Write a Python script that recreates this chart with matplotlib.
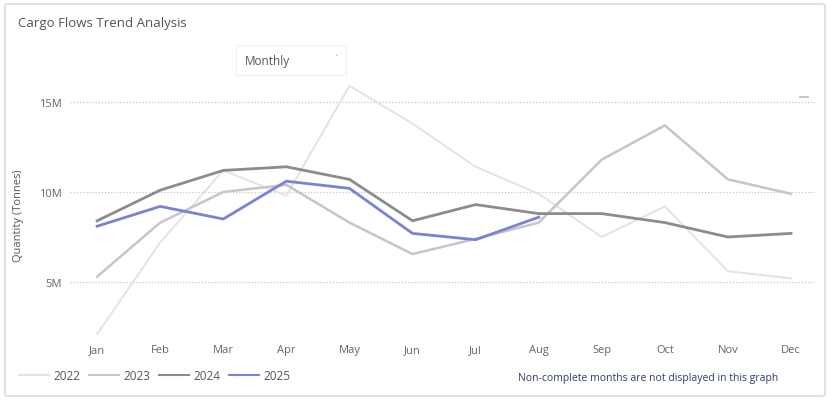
import matplotlib
matplotlib.use('Agg')
from matplotlib import pyplot as plt
from matplotlib.patches import FancyBboxPatch
from matplotlib.lines import Line2D

months = ['Jan', 'Feb', 'Mar', 'Apr', 'May', 'Jun', 'Jul', 'Aug', 'Sep', 'Oct', 'Nov', 'Dec']

# values in millions of tonnes
y2022 = [2.1, 7.2, 11.2, 9.8, 15.9, 13.8, 11.4, 9.9, 7.5, 9.2, 5.6, 5.2]
y2023 = [5.3, 8.3, 10.0, 10.4, 8.3, 6.55, 7.4, 8.3, 11.8, 13.7, 10.7, 9.9]
y2024 = [8.4, 10.1, 11.2, 11.4, 10.7, 8.4, 9.3, 8.8, 8.8, 8.3, 7.5, 7.7]
y2025 = [8.1, 9.2, 8.5, 10.6, 10.2, 7.7, 7.35, 8.6]

series = [
    ('2022', y2022, '#e3e3e3', 1.4),
    ('2023', y2023, '#c6c6c6', 1.8),
    ('2024', y2024, '#8c8c8c', 2.0),
    ('2025', y2025, '#7a82d4', 2.0),
]

plt.rcParams['font.family'] = ['Open Sans', 'DejaVu Sans']

fig = plt.figure(figsize=(8.3, 4.02), dpi=100)
W, H = 830, 402

# card frame
card = FancyBboxPatch((5 / W, 5 / H), 820 / W, 392 / H, boxstyle='round,pad=0,rounding_size=0.004',
                      transform=fig.transFigure, facecolor='white', edgecolor='#e2e2e2', lw=1.5, zorder=-2)
fig.patches.append(card)

fig.text(18 / W, 1 - 23 / H, 'Cargo Flows Trend Analysis', fontsize=9.5, color='#555555', va='center')

# slicer box
slicer = FancyBboxPatch((236 / W, 1 - 76 / H), 110 / W, 30 / H, boxstyle='square,pad=0',
                        transform=fig.transFigure, facecolor='white', edgecolor='#f2f2f2', lw=1, zorder=-1)
fig.patches.append(slicer)
fig.text(245 / W, 1 - 61 / H, 'Monthly', fontsize=8.5, color='#555555', va='center')
fig.text(334 / W, 1 - 58 / H, '˅', fontsize=5, color='#999999', va='center')

ax = fig.add_axes([70 / W, 1 - 337 / H, 745 / W, 252 / H])
ax.set_facecolor('none')
x = list(range(len(months)))
for name, vals, color, lw in series:
    ax.plot(x[:len(vals)], vals, color=color, lw=lw, solid_joinstyle='miter', label=name)

ax.set_xlim(-0.43, 11.38)
ax.set_ylim(2, 16)
ax.set_yticks([5, 10, 15])
ax.set_yticklabels(['5M', '10M', '15M'], fontsize=8, color='#666666')
ax.set_xticks(x)
ax.set_xticklabels(months, fontsize=8, color='#666666')
ax.tick_params(length=0)
ax.tick_params(axis='x', pad=6)
ax.tick_params(axis='y', pad=6)
ax.grid(axis='y', ls=(0, (1, 1.5)), color='#c8c8c8', lw=0.9)
ax.set_axisbelow(True)
for s in ax.spines.values():
    s.set_visible(False)
ax.set_ylabel('Quantity (Tonnes)', fontsize=8, color='#555555')
ax.yaxis.set_label_coords(-0.062, 0.48)

handles = [Line2D([0], [0], color=c, lw=1.5) for _, _, c, _ in series]
fig.legend(handles, [s[0] for s in series], loc='center left', bbox_to_anchor=(8 / W, 1 - 377 / H),
           ncol=4, frameon=False, fontsize=8.5, handlelength=2.6, handletextpad=0.35, columnspacing=0.7,
           labelcolor='#555555')

fig.text(778 / W, 1 - 379 / H, 'Non-complete months are not displayed in this graph', fontsize=7.5,
         color='#2f3d6b', ha='right', va='center')

# small focus-mode mark top right
fig.add_artist(Line2D([800 / W, 808 / W], [1 - 98 / H, 1 - 98 / H], color='#bbbbbb', lw=1.2))

fig.savefig('out.png', dpi=100)
